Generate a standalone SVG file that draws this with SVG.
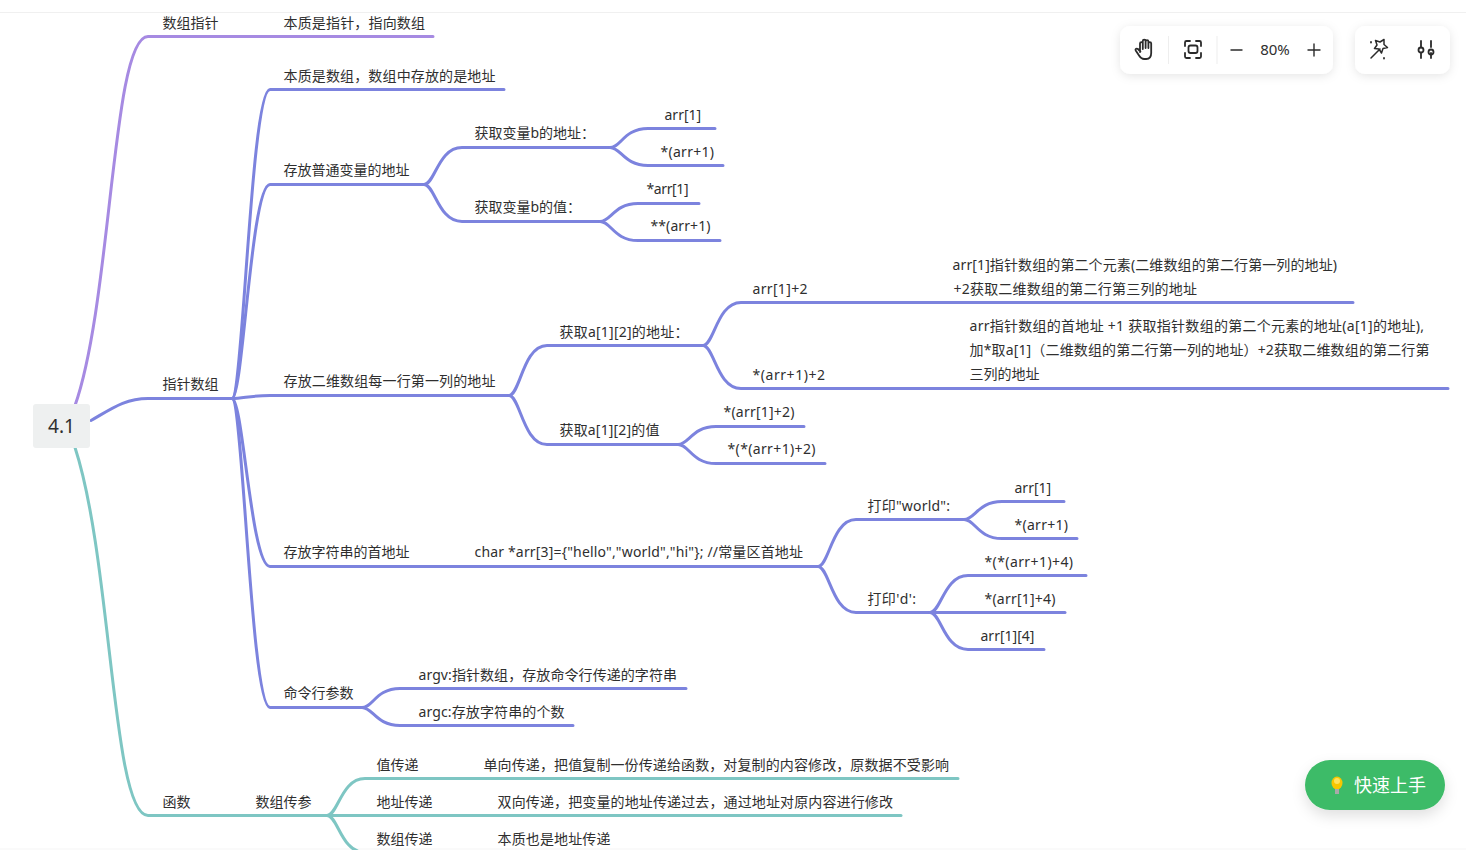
<svg xmlns="http://www.w3.org/2000/svg" width="1466" height="850" viewBox="0 0 1466 850">
<style>
text{font-family:"Noto Sans","Noto Sans CJK SC","Liberation Sans",sans-serif;font-size:14px;fill:#2f2f2f}
.c{fill:none;stroke-width:3;stroke-linecap:round;stroke-linejoin:round}
.p{stroke:#a68ae2}.b{stroke:#7c83de}.t{stroke:#7ec6c3}
.ic{fill:none;stroke:#2b2b2b;stroke-width:1.8;stroke-linecap:round;stroke-linejoin:round}
.panel{fill:#fff;filter:url(#sh)}
</style>
<defs>
<filter id="sh" x="-30%" y="-50%" width="160%" height="220%"><feDropShadow dx="0" dy="2" stdDeviation="5" flood-color="#000" flood-opacity=".1"/></filter>
<filter id="sh2" x="-30%" y="-50%" width="160%" height="220%"><feDropShadow dx="0" dy="6" stdDeviation="7" flood-color="#000" flood-opacity=".12"/></filter>
</defs>
<rect width="1466" height="850" fill="#fff"/>
<rect y="12" width="1466" height="1" fill="#f0f0f0"/>
<rect y="848" width="1466" height="2" fill="#fafafa"/>
<g id="connectors" transform="translate(0 .5)">
<path class="c p" d="M75 405C112 300 112 36 148 36H433"/>
<path class="c t" d="M75 447C112 560 112 815 148 815H327"/>
<path class="c b" d="M91 420C112 408 125 398 148 398H232"/>
<path class="c b" d="M232 398C243 398 251 89 270 89H504"/>
<path class="c b" d="M232 398C243 398 251 184 270 184H424"/>
<path class="c b" d="M232 398C243 398 251 395 270 395H509"/>
<path class="c b" d="M232 398C243 398 251 566 270 566H818"/>
<path class="c b" d="M232 398C243 398 251 707 270 707H362"/>
<path class="c b" d="M424 184C435 184 438 147 462 147H610"/>
<path class="c b" d="M424 184C435 184 438 221 462 221H600"/>
<path class="c b" d="M610 147C621 147 624 128 648 128H715"/>
<path class="c b" d="M610 147C621 147 624 165 648 165H723"/>
<path class="c b" d="M600 221C611 221 614 203 638 203H699"/>
<path class="c b" d="M600 221C611 221 614 240 638 240H720"/>
<path class="c b" d="M509 395C520 395 523 345 547 345H703"/>
<path class="c b" d="M509 395C520 395 523 444 547 444H678"/>
<path class="c b" d="M703 345C714 345 717 302 741 302H1353"/>
<path class="c b" d="M703 345C714 345 717 388 741 388H1448"/>
<path class="c b" d="M678 444C689 444 692 426 716 426H804"/>
<path class="c b" d="M678 444C689 444 692 463 716 463H825"/>
<path class="c b" d="M818 566C829 566 832 519 856 519H964"/>
<path class="c b" d="M818 566C829 566 832 612 856 612H930"/>
<path class="c b" d="M964 519C975 519 978 501 1002 501H1064"/>
<path class="c b" d="M964 519C975 519 978 538 1002 538H1077"/>
<path class="c b" d="M930 612C941 612 944 575 968 575H1086"/>
<path class="c b" d="M930 612H1065"/>
<path class="c b" d="M930 612C941 612 944 649 968 649H1044"/>
<path class="c b" d="M362 707C373 707 376 688 400 688H686"/>
<path class="c b" d="M362 707C373 707 376 725 400 725H573"/>
<path class="c t" d="M327 815C338 815 341 778 365 778H958"/>
<path class="c t" d="M327 815H901"/>
<path class="c t" d="M327 815C338 815 341 852 365 852"/>
</g>
<g id="root"><rect x="33" y="404" width="57" height="44" rx="3" fill="#eef0f0"/><text x="61.500" y="433" text-anchor="middle" style="font-size:19px">4.1</text></g>
<g id="nodes" transform="translate(-.5 0)">
<g id="n1"><text x="163" y="28">数组指针</text></g>
<g id="n2"><text x="284" y="28" textLength="141.500">本质是指针，指向数组</text></g>
<g id="n3"><text x="163" y="389">指针数组</text></g>
<g id="n4"><text x="284" y="81" textLength="212">本质是数组，数组中存放的是地址</text></g>
<g id="n5"><text x="284" y="175">存放普通变量的地址</text></g>
<g id="n6"><text x="475" y="138">获取变量b的地址：</text></g>
<g id="n7"><text x="665" y="120">arr[1]</text></g>
<g id="n8"><text x="661" y="157" textLength="53.500">*(arr+1)</text></g>
<g id="n9"><text x="475" y="212">获取变量b的值：</text></g>
<g id="n10"><text x="647" y="194" textLength="42">*arr[1]</text></g>
<g id="n11"><text x="651" y="231" textLength="60">**(arr+1)</text></g>
<g id="n12"><text x="284" y="386" textLength="212">存放二维数组每一行第一列的地址</text></g>
<g id="n13"><text x="560" y="337" textLength="129">获取a[1][2]的地址：</text></g>
<g id="n14"><text x="753" y="294" textLength="55">arr[1]+2</text></g>
<g id="n15"><text x="953" y="270" textLength="384.500">arr[1]指针数组的第二个元素(二维数组的第二行第一列的地址)</text><text x="954" y="294" textLength="243.500">+2获取二维数组的第二行第三列的地址</text></g>
<g id="n16"><text x="753" y="380" textLength="72.500">*(arr+1)+2</text></g>
<g id="n17"><text x="970" y="331" textLength="454.500">arr指针数组的首地址 +1 获取指针数组的第二个元素的地址(a[1]的地址),</text><text x="970" y="355" textLength="460">加*取a[1]（二维数组的第二行第一列的地址）+2获取二维数组的第二行第</text><text x="970" y="379">三列的地址</text></g>
<g id="n18"><text x="560" y="435" textLength="100">获取a[1][2]的值</text></g>
<g id="n19"><text x="724" y="417" textLength="71">*(arr[1]+2)</text></g>
<g id="n20"><text x="728" y="454" textLength="88">*(*(arr+1)+2)</text></g>
<g id="n21"><text x="284" y="557">存放字符串的首地址</text></g>
<g id="n22"><text x="475" y="557" textLength="328.500">char *arr[3]={"hello","world","hi"}; //常量区首地址</text></g>
<g id="n23"><text x="868" y="511" textLength="82.500">打印"world":</text></g>
<g id="n24"><text x="1015" y="493">arr[1]</text></g>
<g id="n25"><text x="1015" y="530" textLength="53.500">*(arr+1)</text></g>
<g id="n26"><text x="868" y="604" textLength="48.500">打印'd':</text></g>
<g id="n27"><text x="985" y="567" textLength="88.500">*(*(arr+1)+4)</text></g>
<g id="n28"><text x="985" y="604" textLength="71">*(arr[1]+4)</text></g>
<g id="n29"><text x="981" y="641">arr[1][4]</text></g>
<g id="n30"><text x="284" y="698">命令行参数</text></g>
<g id="n31"><text x="419" y="680" textLength="258.500">argv:指针数组，存放命令行传递的字符串</text></g>
<g id="n32"><text x="419" y="717" textLength="146">argc:存放字符串的个数</text></g>
<g id="n33"><text x="163" y="807">函数</text></g>
<g id="n34"><text x="256" y="807">数组传参</text></g>
<g id="n35"><text x="377" y="770">值传递</text></g>
<g id="n36"><text x="484" y="770" textLength="465.500">单向传递，把值复制一份传递给函数，对复制的内容修改，原数据不受影响</text></g>
<g id="n37"><text x="377" y="807">地址传递</text></g>
<g id="n38"><text x="498" y="807" textLength="395.500">双向传递，把变量的地址传递过去，通过地址对原内容进行修改</text></g>
<g id="n39"><text x="377" y="844">数组传递</text></g>
<g id="n40"><text x="498" y="844" textLength="113">本质也是地址传递</text></g>
</g>
<g id="toolbar">
<rect class="panel" x="1120" y="26" width="213" height="48" rx="10"/>
<rect x="1168" y="36" width="1" height="28" fill="#eee"/><rect x="1216.500" y="36" width="1" height="28" fill="#eee"/>
<path class="ic" d="M1140 52V43.500a1.400 1.400 0 0 1 2.800 0V49M1142.800 48V41a1.400 1.400 0 0 1 2.800 0V48M1145.600 48V41.500a1.400 1.400 0 0 1 2.800 0V48M1148.400 48V43.500a1.400 1.400 0 0 1 2.800 0V53c0 4-2 6-5 6h-2c-3 0-4-1.500-5.500-4l-3-4.500c-.8-1.500 1-2.500 2.200-1.500l2.500 2.500"/>
<path class="ic" d="M1185 46V42.500a1.500 1.500 0 0 1 1.500-1.500H1190M1196 41h3.500a1.500 1.500 0 0 1 1.500 1.500V46M1201 53v3.500a1.500 1.500 0 0 1-1.500 1.500H1196M1190 58h-3.500a1.500 1.500 0 0 1-1.500-1.500V53"/>
<rect class="ic" x="1188.500" y="45.500" width="9" height="7.500" rx="2"/>
<path class="ic" style="stroke-width:1.400" d="M1231 50H1242M1308 50H1320M1314 44V56"/>
<text x="1275" y="55" text-anchor="middle" style="font-size:15px">80%</text>
<rect class="panel" x="1355" y="26" width="95" height="48" rx="10"/>
<path class="ic" style="stroke-width:1.500" d="M1371 58L1380 49M1377 45l-1.500-4.500 4.500 1.500 4-2.500v5l3.500 3-4.500 1-1.500 4.500-2.500-4-4.500-.5z"/>
<path class="ic" d="M1371 42v.5M1384 58v.5"/>
<path class="ic" d="M1421 41V47M1421 53V58M1431 41V47M1431 53V58"/>
<circle class="ic" cx="1421" cy="50" r="2.500"/><circle class="ic" cx="1431" cy="52" r="2.500"/>
</g>
<g id="quickstart">
<rect x="1305" y="760" width="140" height="50" rx="25" fill="#3dbb67" filter="url(#sh2)"/>
<ellipse cx="1337" cy="783" rx="5.500" ry="6.500" fill="#f7c600"/><ellipse cx="1337" cy="781" rx="3" ry="3" fill="#ffe25a"/>
<rect x="1335" y="789" width="4" height="5" fill="#a9a9a9"/>
<text x="1354" y="792" style="font-size:18px;fill:#fff">快速上手</text>
</g>
</svg>
